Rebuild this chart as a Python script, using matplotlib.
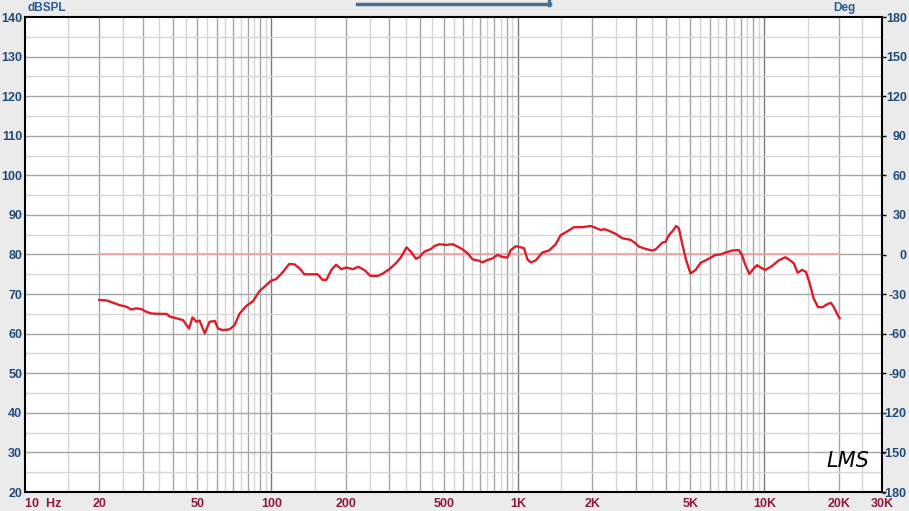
import numpy as np
import matplotlib
matplotlib.use("Agg")
from matplotlib import pyplot as plt
from matplotlib.lines import Line2D

# SPL response (Hz, dB)
freq = [20, 21.4, 22.1, 24.2, 25.8, 27.0, 28.3, 29.7, 31.1, 32.6, 35.2, 37.5, 38.7,
        41.1, 43.8, 46.3, 47.8, 49.6, 51.1, 53.6, 56.1, 58.9, 60.7, 63.6, 67.7,
        70.9, 74.3, 79.1, 84.1, 89.5, 93.8, 99.8, 104.5, 111, 118, 124, 130, 136,
        145, 154, 161, 167, 175, 183, 192, 201, 214, 225, 238, 252, 270, 283, 301,
        320, 336, 353, 368, 386, 398, 417, 444, 458, 480, 511, 543, 569, 596, 625,
        654, 697, 718, 752, 788, 826, 865, 906, 935, 980, 1027, 1059, 1092, 1127,
        1181, 1256, 1337, 1423, 1491, 1563, 1689, 1825, 1973, 2035, 2167, 2234,
        2340, 2494, 2651, 2866, 3003, 3097, 3298, 3509, 3622, 3734, 3850, 3973,
        4097, 4252, 4385, 4497, 4637, 4811, 5015, 5256, 5508, 5772, 6137, 6336,
        6640, 6958, 7398, 7866, 8109, 8375, 8690, 9057, 9336, 9782, 10098, 10741,
        11426, 12154, 12537, 13144, 13641, 14196, 14743, 15212, 15844, 16496,
        17228, 17924, 18604, 19084, 19695, 20182]
spl = [68.5, 68.4, 68.1, 67.2, 66.8, 66.1, 66.4, 66.2, 65.5, 65.1, 65.0, 65.0, 64.3,
       63.9, 63.4, 61.3, 64.1, 63.0, 63.3, 60.1, 63.0, 63.2, 61.3, 60.9, 61.1,
       62.2, 65.1, 67.0, 68.2, 70.8, 71.9, 73.4, 73.8, 75.5, 77.6, 77.5, 76.5, 75.0,
       75.0, 75.0, 73.6, 73.6, 76.1, 77.4, 76.3, 76.7, 76.3, 76.9, 76.1, 74.6, 74.6,
       75.2, 76.3, 77.8, 79.4, 81.8, 80.7, 78.9, 79.3, 80.7, 81.4, 82.1, 82.6, 82.4,
       82.6, 82.0, 81.3, 80.3, 78.8, 78.4, 78.0, 78.6, 79.0, 79.9, 79.4, 79.2, 81.1,
       82.1, 81.8, 81.6, 78.8, 78.0, 78.5, 80.5, 81.0, 82.6, 84.9, 85.6, 86.9, 86.9,
       87.2, 86.9, 86.2, 86.4, 86.0, 85.2, 84.1, 83.7, 82.8, 82.0, 81.4, 81.0, 81.3,
       82.1, 83.0, 83.2, 84.9, 86.0, 87.2, 86.6, 82.8, 78.6, 75.2, 76.1, 77.9, 78.5,
       79.4, 79.9, 80.0, 80.5, 81.0, 81.1, 79.9, 77.3, 75.1, 76.5, 77.3, 76.5, 76.1,
       77.1, 78.5, 79.3, 78.8, 77.8, 75.4, 76.1, 75.6, 73.1, 68.9, 66.7, 66.7, 67.4,
       67.8, 66.8, 65.1, 63.9]

ref_freq = [20, 20000]
ref_level = [80, 80]

db_ticks = list(range(20, 141, 10))
deg_ticks = list(range(-180, 181, 30))
x_ticks = [10, 20, 50, 100, 200, 500, 1000, 2000, 5000, 10000, 20000, 30000]
x_labels = ["10  Hz", "20", "50", "100", "200", "500", "1K", "2K", "5K", "10K", "20K", "30K"]

blue = "#1f4b7a"
maroon = "#8c1a3c"
plt.rcParams['font.family'] = ['Liberation Sans', 'DejaVu Sans']

fig = plt.figure(figsize=(9.09, 5.11), dpi=100, facecolor="#ebebeb")
ax = fig.add_axes([25/909, 19/511, 857/909, 475/511])
ax.set_facecolor("white")
ax.set_xscale("log")
ax.set_xlim(10, 30000)
ax.set_ylim(20, 140)

# grid: decades dark, integer multiples medium, half multiples light
for dec in [10, 100, 1000, 10000]:
    for m in np.arange(1, 10, 0.5):
        f = dec * m
        if f <= 10 or f >= 30000:
            continue
        if m == 1:
            c = "#7a7a7a"
        elif m == int(m):
            c = "#a6a6a6"
        else:
            c = "#d6d6d6"
        ax.axvline(f, color=c, lw=1.0, zorder=0)
for v in range(25, 140, 5):
    ax.axhline(v, color="#a6a6a6" if v % 10 == 0 else "#d6d6d6", lw=1.0, zorder=0)

ax.plot(ref_freq, ref_level, color="#f4a3a3", lw=1.3, zorder=2)
ax.plot(freq, spl, color="#d81e2a", lw=1.7, zorder=3)

ax.set_yticks(db_ticks)
ax.set_yticklabels([str(t) for t in db_ticks], color=blue, fontsize=9, fontweight="bold")
ax.tick_params(axis="y", length=0, pad=2)
ax.set_xticks(x_ticks)
ax.set_xticklabels(x_labels, color=maroon, fontsize=9, fontweight="bold")
ax.xaxis.set_minor_locator(matplotlib.ticker.NullLocator())
ax.tick_params(axis="x", length=0, pad=4)
ax.get_xticklabels()[0].set_ha("left")
for s in ax.spines.values():
    s.set_linewidth(1.5)
    s.set_color("black")

ax2 = ax.twinx()
ax2.set_ylim(-180, 180)
ax2.set_yticks(deg_ticks)
ax2.set_yticklabels([str(t) for t in deg_ticks], color=blue, fontsize=9, fontweight="bold")
ax2.tick_params(axis="y", length=3, width=1, pad=15, colors="black", labelcolor=blue)
for lab in ax2.get_yticklabels():
    lab.set_ha("right")
for s in ax2.spines.values():
    s.set_visible(False)

fig.text(27/909, 1 - 8/511, "dBSPL", color="#2b5d8c", fontsize=8.5, fontweight="bold",
         ha="left", va="center")
fig.text(856/909, 1 - 8/511, "Deg", color="#2b5d8c", fontsize=8.5, fontweight="bold",
         ha="right", va="center")
ax.text(0.985, 0.045, "LMS", transform=ax.transAxes, fontsize=15, style="italic",
        family="DejaVu Sans", ha="right", va="bottom", color="black")

# scroll bar at the top
fig.add_artist(Line2D([357/909, 550/909], [1 - 4/511, 1 - 4/511], color="#4a7090", lw=2.5))
fig.add_artist(Line2D([549/909, 549/909], [1 - 5/511, 1.0], color="#4a7090", lw=2.5))

fig.savefig("out.png", dpi=100, facecolor=fig.get_facecolor())
